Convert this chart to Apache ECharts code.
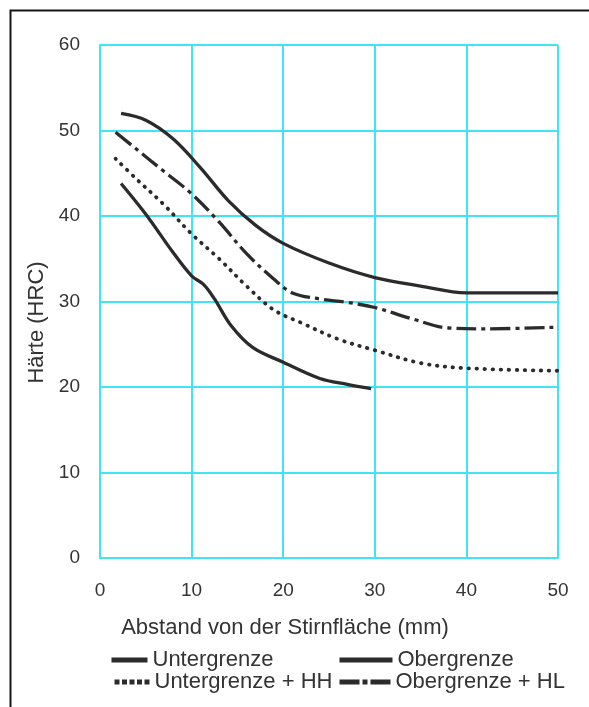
<!DOCTYPE html>
<html>
<head>
<meta charset="utf-8">
<script src="https://cdn.jsdelivr.net/npm/echarts@6/dist/echarts.min.js"></script>
<style>
html,body{margin:0;padding:0;background:#fff;}
#chart{width:589px;height:707px;}
</style>
</head>
<body>
<div id="chart"></div>
<script>
// ---- data ----
var xTicks = [0, 10, 20, 30, 40, 50];
var yTicks = [0, 10, 20, 30, 40, 50, 60];

var untergrenzeX = [2.3, 5.0, 8.0, 10.0, 11.3, 12.5, 14.3, 16.7, 20.0, 24.0, 27.0, 29.6];
var untergrenzeY = [43.8, 40.2, 35.7, 33.0, 32.0, 30.3, 27.2, 24.6, 22.9, 21.0, 20.3, 19.8];

var obergrenzeX = [2.3, 5.0, 8.0, 11.0, 14.0, 17.0, 20.0, 25.0, 30.0, 35.0, 40.0, 45.0, 50.0];
var obergrenzeY = [52.0, 51.2, 49.0, 45.6, 41.8, 38.9, 36.8, 34.5, 32.8, 31.8, 31.0, 31.0, 31.0];

var untergrenzeHHX = [1.7, 4.0, 7.0, 10.0, 13.0, 16.0, 19.0, 22.0, 26.0, 30.0, 35.0, 40.0, 50.0];
var untergrenzeHHY = [46.7, 44.3, 41.3, 37.9, 35.0, 31.8, 29.0, 27.5, 25.6, 24.3, 22.8, 22.2, 21.9];

var obergrenzeHLX = [1.7, 4.0, 7.0, 10.0, 13.0, 16.0, 19.0, 21.0, 24.0, 27.0, 30.0, 34.0, 38.0, 42.0, 50.0];
var obergrenzeHLY = [49.8, 47.8, 45.2, 42.6, 39.3, 35.6, 32.6, 31.0, 30.3, 29.9, 29.3, 28.0, 26.9, 26.8, 27.0];

var seriesNames = ['Untergrenze', 'Obergrenze', 'Untergrenze + HH', 'Obergrenze + HL'];
var xAxisName = 'Abstand von der Stirnfläche (mm)';
var yAxisName = 'Härte (HRC)';

function pairs(xs, ys) {
  var out = [];
  for (var i = 0; i < xs.length; i++) out.push([xs[i], ys[i]]);
  return out;
}

var FONT = '"Liberation Sans", Arial, Helvetica, sans-serif';
var CYAN = '#40e4f4';
var INK = '#2b2b2b';
var TXT = '#333333';

function lineSeries(name, xs, ys, type, width, cap) {
  return {
    name: name,
    type: 'line',
    data: pairs(xs, ys),
    showSymbol: false,
    symbol: 'none',
    smooth: 0.35,
    silent: true,
    lineStyle: { color: INK, width: width, type: type, cap: cap || 'butt', join: 'round' },
    itemStyle: { color: INK }
  };
}

function legendAt(name, left, top, w, lineType) {
  return {
    data: [{ name: name }],
    left: left,
    top: top,
    itemWidth: w,
    itemHeight: 14,
    padding: 0,
    selectedMode: false,
    itemStyle: { opacity: 0, borderWidth: 0 },
    lineStyle: { width: 5, type: lineType, color: INK, cap: 'butt' },
    textStyle: { fontFamily: FONT, fontSize: 22, color: TXT }
  };
}

var chart = echarts.init(document.getElementById('chart'), null, { renderer: 'canvas' });
chart.setOption({
  animation: false,
  backgroundColor: '#ffffff',
  grid: { left: 100, right: 31, top: 45, bottom: 149, containLabel: false },
  xAxis: {
    type: 'value',
    min: xTicks[0],
    max: xTicks[xTicks.length - 1],
    interval: xTicks[1] - xTicks[0],
    name: xAxisName,
    nameLocation: 'middle',
    nameGap: 59,
    nameTextStyle: { fontFamily: FONT, fontSize: 22, color: TXT, padding: [0, 88, 0, 0] },
    axisLine: { show: true, lineStyle: { color: CYAN, width: 2 } },
    axisTick: { show: false },
    axisLabel: { fontFamily: FONT, fontSize: 19, color: TXT, margin: 23 },
    splitLine: { show: true, lineStyle: { color: CYAN, width: 2 } }
  },
  yAxis: {
    type: 'value',
    min: yTicks[0],
    max: yTicks[yTicks.length - 1],
    interval: yTicks[1] - yTicks[0],
    name: yAxisName,
    nameLocation: 'middle',
    nameGap: 49,
    nameTextStyle: { fontFamily: FONT, fontSize: 22, color: TXT, padding: [0, 42, 0, 0] },
    axisLine: { show: true, lineStyle: { color: CYAN, width: 2 } },
    axisTick: { show: false },
    axisLabel: { fontFamily: FONT, fontSize: 19, color: TXT, margin: 20 },
    splitLine: { show: true, lineStyle: { color: CYAN, width: 2 } }
  },
  legend: [
    legendAt(seriesNames[0], 109, 649, 36, 'solid'),
    legendAt(seriesNames[1], 337, 649, 53, 'solid'),
    legendAt(seriesNames[2], 112, 671, 35, [5, 2.5]),
    legendAt(seriesNames[3], 337, 671, 51, [20, 3, 5, 3])
  ],
  graphic: [{
    type: 'rect',
    silent: true,
    shape: { x: 10.5, y: 10.5, width: 600, height: 720 },
    style: { fill: 'none', stroke: '#151515', lineWidth: 2 }
  }],
  series: [
    lineSeries(seriesNames[0], untergrenzeX, untergrenzeY, 'solid', 3.3),
    lineSeries(seriesNames[1], obergrenzeX, obergrenzeY, 'solid', 3.3),
    lineSeries(seriesNames[2], untergrenzeHHX, untergrenzeHHY, [0.5, 7.5], 3.8, 'round'),
    lineSeries(seriesNames[3], obergrenzeHLX, obergrenzeHLY, [20, 5, 4, 5], 3.3)
  ]
});
</script>
</body>
</html>
